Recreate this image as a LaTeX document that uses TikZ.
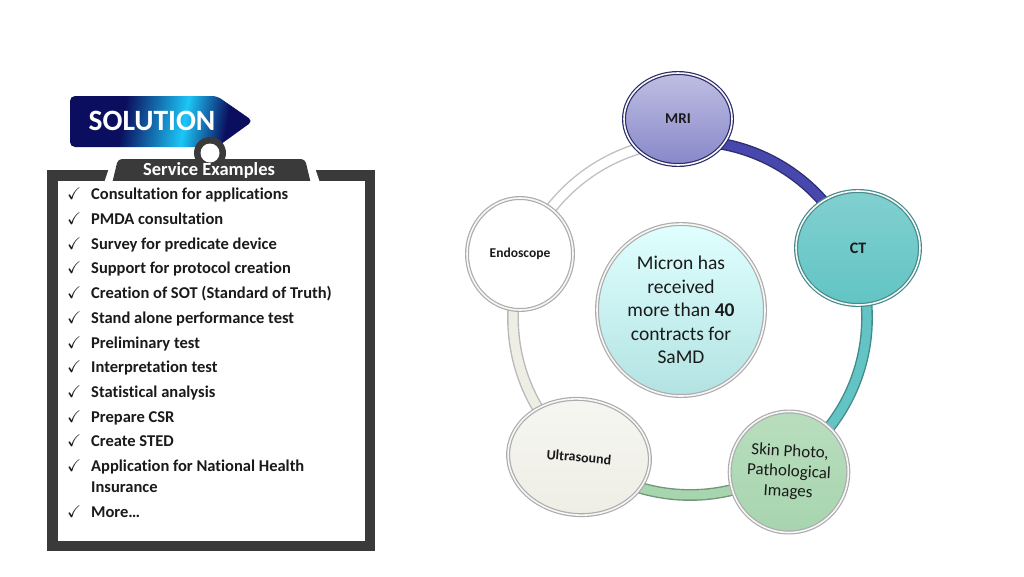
\documentclass[tikz,border=0pt]{standalone}
\usepackage{amssymb}
\usepackage{fontspec}
\setmainfont{Carlito}[Ligatures={NoCommon}]
\usepackage{xcolor}
\usepackage{tikz}
\usetikzlibrary{shapes.geometric, backgrounds}
\usetikzlibrary{calc, positioning}

\definecolor{tagnavy}{HTML}{0B0E5E}
\definecolor{tagcyan}{HTML}{1CC6F7}
\definecolor{board}{HTML}{3A3A3A}
\definecolor{ink}{HTML}{1A1A1A}
\definecolor{mriblue}{HTML}{4747AD}
\definecolor{ctteal}{HTML}{62C4C4}
\definecolor{skingreen}{HTML}{A7D5AE}
\definecolor{ultracream}{HTML}{EEEEE5}
\pgfdeclarehorizontalshading{tagglow}{100bp}{color(0bp)=(tagnavy); color(38bp)=(tagnavy); color(57bp)=(tagcyan); color(70bp)=(tagnavy); color(100bp)=(tagnavy)}

\tikzstyle{bubble}=[ellipse, draw=gray!65, double=gray!6, double distance=1.6pt, line width=1.2pt, inner sep=0pt, align=center, text=ink]
\tikzstyle{band}=[double distance=9pt, line width=1.4pt]
\tikzstyle{item}=[anchor=base west, inner sep=0pt, text=ink, font=\fontsize{16.5}{21}\selectfont\bfseries]
\tikzstyle{tick}=[anchor=base west, inner sep=0pt, text=ink, font=\fontsize{17}{17}\selectfont]

\begin{document}
\begin{tikzpicture}[x=1pt, y=-1pt]

\tikzset{every node/.style={inner sep=0pt}}
\useasboundingbox (0,0) rectangle (1024,576);

% Solution tag
\path[shading=tagglow, shading angle=-10, rounded corners=5pt]
  (70,96) -- (217,96) -- (253,121) -- (217,147) -- (70,147) -- cycle;
\node[text=white, font=\fontsize{29.5}{30}\selectfont\bfseries] (solution) at (152,121) {SOLUTION};

% Clipboard
\fill[board] (47,170) rectangle (375,551);
\fill[white] (104,183) -- (113,156) -- (311,156) -- (320,183) -- cycle;
\fill[board, rounded corners=4pt] (110,192) -- (118,159) -- (305,159) -- (313,192) -- cycle;
\fill[board] (210,153) circle (16);
\fill[white] (58,181) rectangle (365,541);
\fill[white] (210,153) circle (9.5);
\node[text=white, font=\fontsize{18.5}{19}\selectfont\bfseries] (tab) at (209,170.5) {Service Examples};

\foreach \y/\txt [count=\i] in {199/Consultation for applications, 224/PMDA consultation,
    249/Survey for predicate device, 273.5/Support for protocol creation,
    298/Creation of SOT (Standard of Truth), 323/Stand alone performance test,
    348/Preliminary test, 372.5/Interpretation test, 397/Statistical analysis,
    422/Prepare CSR, 446.5/Create STED, 471/Application for National Health, 517/More…} {
  \node[tick] (tick\i) at (67,\y) {$\checkmark$};
  \node[item] (item\i) at (91,\y) {\txt};
}
\node[item] (item12b) at (91,492) {Insurance};

% Modalities
\node[bubble, minimum width=168, minimum height=172, top color=cyan!12, bottom color=cyan!25!teal!30,
  font=\fontsize{19.5}{23.5}\selectfont] (micron) at (681,310)
  {Micron has\\received\\more than \textbf{40}\\contracts for\\SaMD};
\node[bubble, minimum width=108, minimum height=92, top color=mriblue!35!white, bottom color=mriblue!65!white,
  draw=mriblue!60!black, font=\fontsize{15}{16}\selectfont\bfseries] (mri) at (678,119) {MRI};
\node[bubble, minimum width=124, minimum height=114, top color=ctteal!80!white, bottom color=ctteal,
  draw=ctteal!70!black, font=\fontsize{16}{17}\selectfont\bfseries] (ct) at (858,248) {CT};
\node[bubble, minimum width=116, minimum height=121, top color=skingreen!80!white, bottom color=skingreen,
  font=\fontsize{17}{20}\selectfont, rotate=-3] (skin) at (789,472) {Skin Photo,\\Pathological\\Images};
\node[bubble, minimum width=142, minimum height=116, top color=ultracream!50!white, bottom color=ultracream,
  font=\fontsize{14}{15}\selectfont\bfseries, rotate=-5] (ultra) at (579,457) {Ultrasound};
\node[bubble, minimum width=106, minimum height=112, fill=white,
  font=\fontsize{13.5}{15}\selectfont\bfseries] (endo) at (520,254) {Endoscope};

% Ring
\coordinate (hub) at (690,318);
\begin{scope}[on background layer]
\draw[band, draw=mriblue!65!black, double=mriblue] (hub) ++(-93.5:177) arc[start angle=-93.5, end angle=-22.6, radius=177];
\draw[band, draw=ctteal!70!black, double=ctteal] (hub) ++(-22.6:177) arc[start angle=-22.6, end angle=57.5, radius=177];
\draw[band, draw=skingreen!70!black, double=skingreen] (hub) ++(57.5:177) arc[start angle=57.5, end angle=128.6, radius=177];
\draw[band, draw=gray!55, double=ultracream] (hub) ++(128.6:177) arc[start angle=128.6, end angle=201, radius=177];
\draw[band, draw=gray!50, double=white] (hub) ++(201:177) arc[start angle=201, end angle=266.5, radius=177];
\end{scope}

\end{tikzpicture}
\end{document}
